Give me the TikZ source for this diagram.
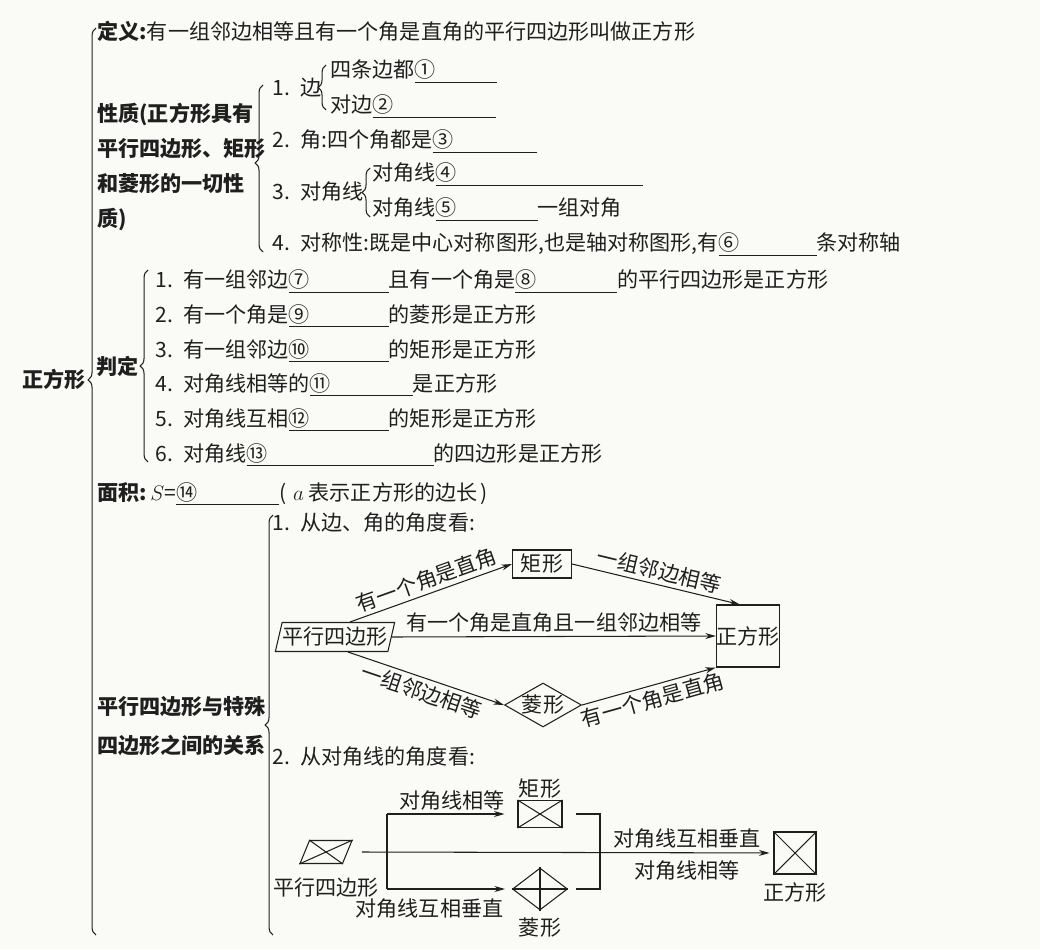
\documentclass[tikz,border=0pt]{standalone}
\usepackage{fontspec}
\setmainfont{Noto Sans CJK SC}
\usetikzlibrary{arrows.meta,shapes.geometric,decorations.pathreplacing,positioning}

\definecolor{ink}{gray}{0.12}
\definecolor{paper}{RGB}{250,250,247}
\newcommand\ansline[2]{\underline{\makebox[#2][l]{#1}}}

\tikzset{
  txt/.style={anchor=base west,inner sep=0pt,text=ink,font=\fontsize{12}{14}\selectfont},
  hd/.style={txt,font=\bfseries\fontsize{12}{14}\selectfont},
  ln/.style={draw=ink,line width=0.6pt},
  brc/.style={ln,decorate,decoration={brace,amplitude=4.5pt,aspect=#1}},
  arr/.style={ln,-{Stealth[length=6pt,width=3.4pt]}},
  lbl/.style={text=ink,inner sep=2pt,font=\fontsize{12}{14}\selectfont},
  box/.style={ln,inner sep=0pt,text=ink,font=\fontsize{12}{14}\selectfont},
}

\begin{document}
\begin{tikzpicture}[x=0.02cm,y=-0.02cm]
  \fill[paper] (0,0) rectangle (1040,949);
  \useasboundingbox (0,0) rectangle (1040,949);

  % main entry
  \node[hd] (zfx) at (22,387) {正方形};
  \draw[brc=0.612] (96,935) -- (96,28);

  % definition
  \node[txt] (dy) at (97,40) {\textbf{定义:}有一组邻边相等且有一个角是直角的平行四边形叫做正方形};

  % properties
  \node[hd] (xz1) at (97,122) {性质(正方形具有};
  \node[hd] (xz2) at (97,157) {平行四边形、矩形};
  \node[hd] (xz3) at (97,192) {和菱形的一切性};
  \node[hd] (xz4) at (97,227) {质)};
  \draw[brc=0.533] (263,252) -- (263,85);
  \node[txt] (xzA) at (272,96) {1.\enspace 边};
  \draw[brc=0.5] (326,110) -- (326,65);
  \node[txt] (xzA1) at (330,78) {四条边都\ansline{①}{1.64cm}};
  \node[txt] (xzA2) at (330,113) {对边\ansline{②}{2.46cm}};
  \node[txt] (xzB) at (272,148) {2.\enspace 角:四个角都是\ansline{③}{2.08cm}};
  \node[txt] (xzC) at (272,200) {3.\enspace 对角线};
  \draw[brc=0.5] (370,217) -- (370,168);
  \node[txt] (xzC1) at (372,181) {对角线\ansline{④}{4.14cm}};
  \node[txt] (xzC2) at (372,216) {对角线\ansline{⑤}{2.04cm}一组对角};
  \node[txt] (xzD) at (272,251) {4.\enspace 对称性:既是中心对称图形,也是轴对称图形,有\ansline{⑥}{1.96cm}条对称轴};

  % criteria
  \node[hd] (pd) at (96,374) {判定};
  \draw[brc=0.5] (148,462) -- (148,270);
  \node[txt] (pd1) at (155,288) {1.\enspace 有一组邻边\ansline{⑦}{2cm}且有一个角是\ansline{⑧}{2.04cm}的平行四边形是正方形};
  \node[txt] (pd2) at (155,322) {2.\enspace 有一个角是\ansline{⑨}{2cm}的菱形是正方形};
  \node[txt] (pd3) at (155,357) {3.\enspace 有一组邻边\ansline{⑩}{2cm}的矩形是正方形};
  \node[txt] (pd4) at (155,391) {4.\enspace 对角线相等的\ansline{⑪}{2.06cm}是正方形};
  \node[txt] (pd5) at (155,426) {5.\enspace 对角线互相\ansline{⑫}{2cm}的矩形是正方形};
  \node[txt] (pd6) at (155,461) {6.\enspace 对角线\ansline{⑬}{3.74cm}的四边形是正方形};

  % area
  \node[txt] (mj) at (97,500) {\textbf{面积:}\,$S$=\ansline{⑭}{2.06cm}(\,\,$a$\ 表示正方形的边长\,)};

  % relations
  \node[hd] (gx1) at (97,714) {平行四边形与特殊};
  \node[hd] (gx2) at (97,753) {四边形之间的关系};
  \draw[brc=0.5] (273,935) -- (273,515);
  \node[txt] (gxA) at (272,530) {1.\enspace 从边、角的角度看:};
  \node[txt] (gxB) at (272,764) {2.\enspace 从对角线的角度看:};

  % sides and angles
  \node[box,trapezium,trapezium left angle=71,trapezium right angle=109,trapezium stretches,
        minimum width=2.4cm,minimum height=0.58cm] (para1) at (335,637) {平行四边形};
  \node[box,minimum width=1.18cm,minimum height=0.56cm] (rect1) at (542,564) {矩形};
  \node[box,minimum width=1.2cm,minimum height=1.24cm] (sq1) at (748,636) {正方形};
  \node[box,diamond,aspect=1.75,minimum width=1.54cm,minimum height=0.88cm] (rhom1) at (543,705) {菱形};
  \draw[arr] ([xshift=0.3cm]para1.north) -- node[lbl,sloped,above]{有一个角是直角} (rect1.west);
  \draw[arr] (rect1.east) -- node[lbl,sloped,above]{一组邻边相等} ([xshift=0.48cm]sq1.north west);
  \draw[arr] (para1.east) -- node[lbl,above]{有一个角是直角且一组邻边相等} (sq1.west);
  \draw[arr] ([xshift=0.26cm]para1.south) -- node[lbl,sloped,below]{一组邻边相等} (rhom1.west);
  \draw[arr] (rhom1.east) -- node[lbl,sloped,below]{有一个角是直角} (sq1.south west);

  % diagonals
  \node[box,inner sep=2pt,trapezium,trapezium left angle=74,trapezium right angle=106,trapezium stretches,
        minimum width=1.04cm,minimum height=0.46cm,
        label={[lbl,label distance=0.2cm]below:平行四边形}] (para2) at (326,852) {};
  \draw[ln] (para2.top left corner) -- (para2.bottom right corner)
            (para2.top right corner) -- (para2.bottom left corner);
  \node[box,minimum width=0.88cm,minimum height=0.54cm,label={[lbl,inner sep=1pt]above:矩形}] (rect2) at (540,814) {};
  \draw[ln] (rect2.north west) -- (rect2.south east) (rect2.north east) -- (rect2.south west);
  \node[box,inner sep=2pt,diamond,minimum width=1.1cm,minimum height=0.84cm,
        label={[lbl,label distance=0.06cm]below:菱形}] (rhom2) at (540,889) {};
  \draw[ln] (rhom2.north) -- (rhom2.south) (rhom2.west) -- (rhom2.east);
  \node[box,minimum size=0.84cm,label={[lbl,label distance=0.08cm]below:正方形}] (sq2) at (795,853) {};
  \draw[ln] (sq2.north west) -- (sq2.south east) (sq2.north east) -- (sq2.south west);

  \coordinate (fkT) at (387,814);
  \coordinate (fkB) at (387,889);
  \coordinate (jn) at (600,853);
  \draw[ln] (fkT) -- (fkB);
  \draw[arr,shorten >=0.26cm] (fkT) -- node[lbl,above]{对角线相等} (rect2);
  \draw[arr,shorten >=0.14cm] (fkB) -- node[lbl,below,pos=0.34,inner sep=5pt]{对角线互相垂直} (rhom2);
  \draw[ln] ([xshift=0.26cm]rect2.east) -| (jn) |- ([xshift=0.16cm]rhom2.east);
  \draw[arr,shorten >=0.08cm] ([xshift=0.28cm]para2.east) --
        node[lbl,above,pos=0.79]{对角线互相垂直}
        node[lbl,below,pos=0.79,inner sep=4pt]{对角线相等} (sq2);
\end{tikzpicture}
\end{document}
